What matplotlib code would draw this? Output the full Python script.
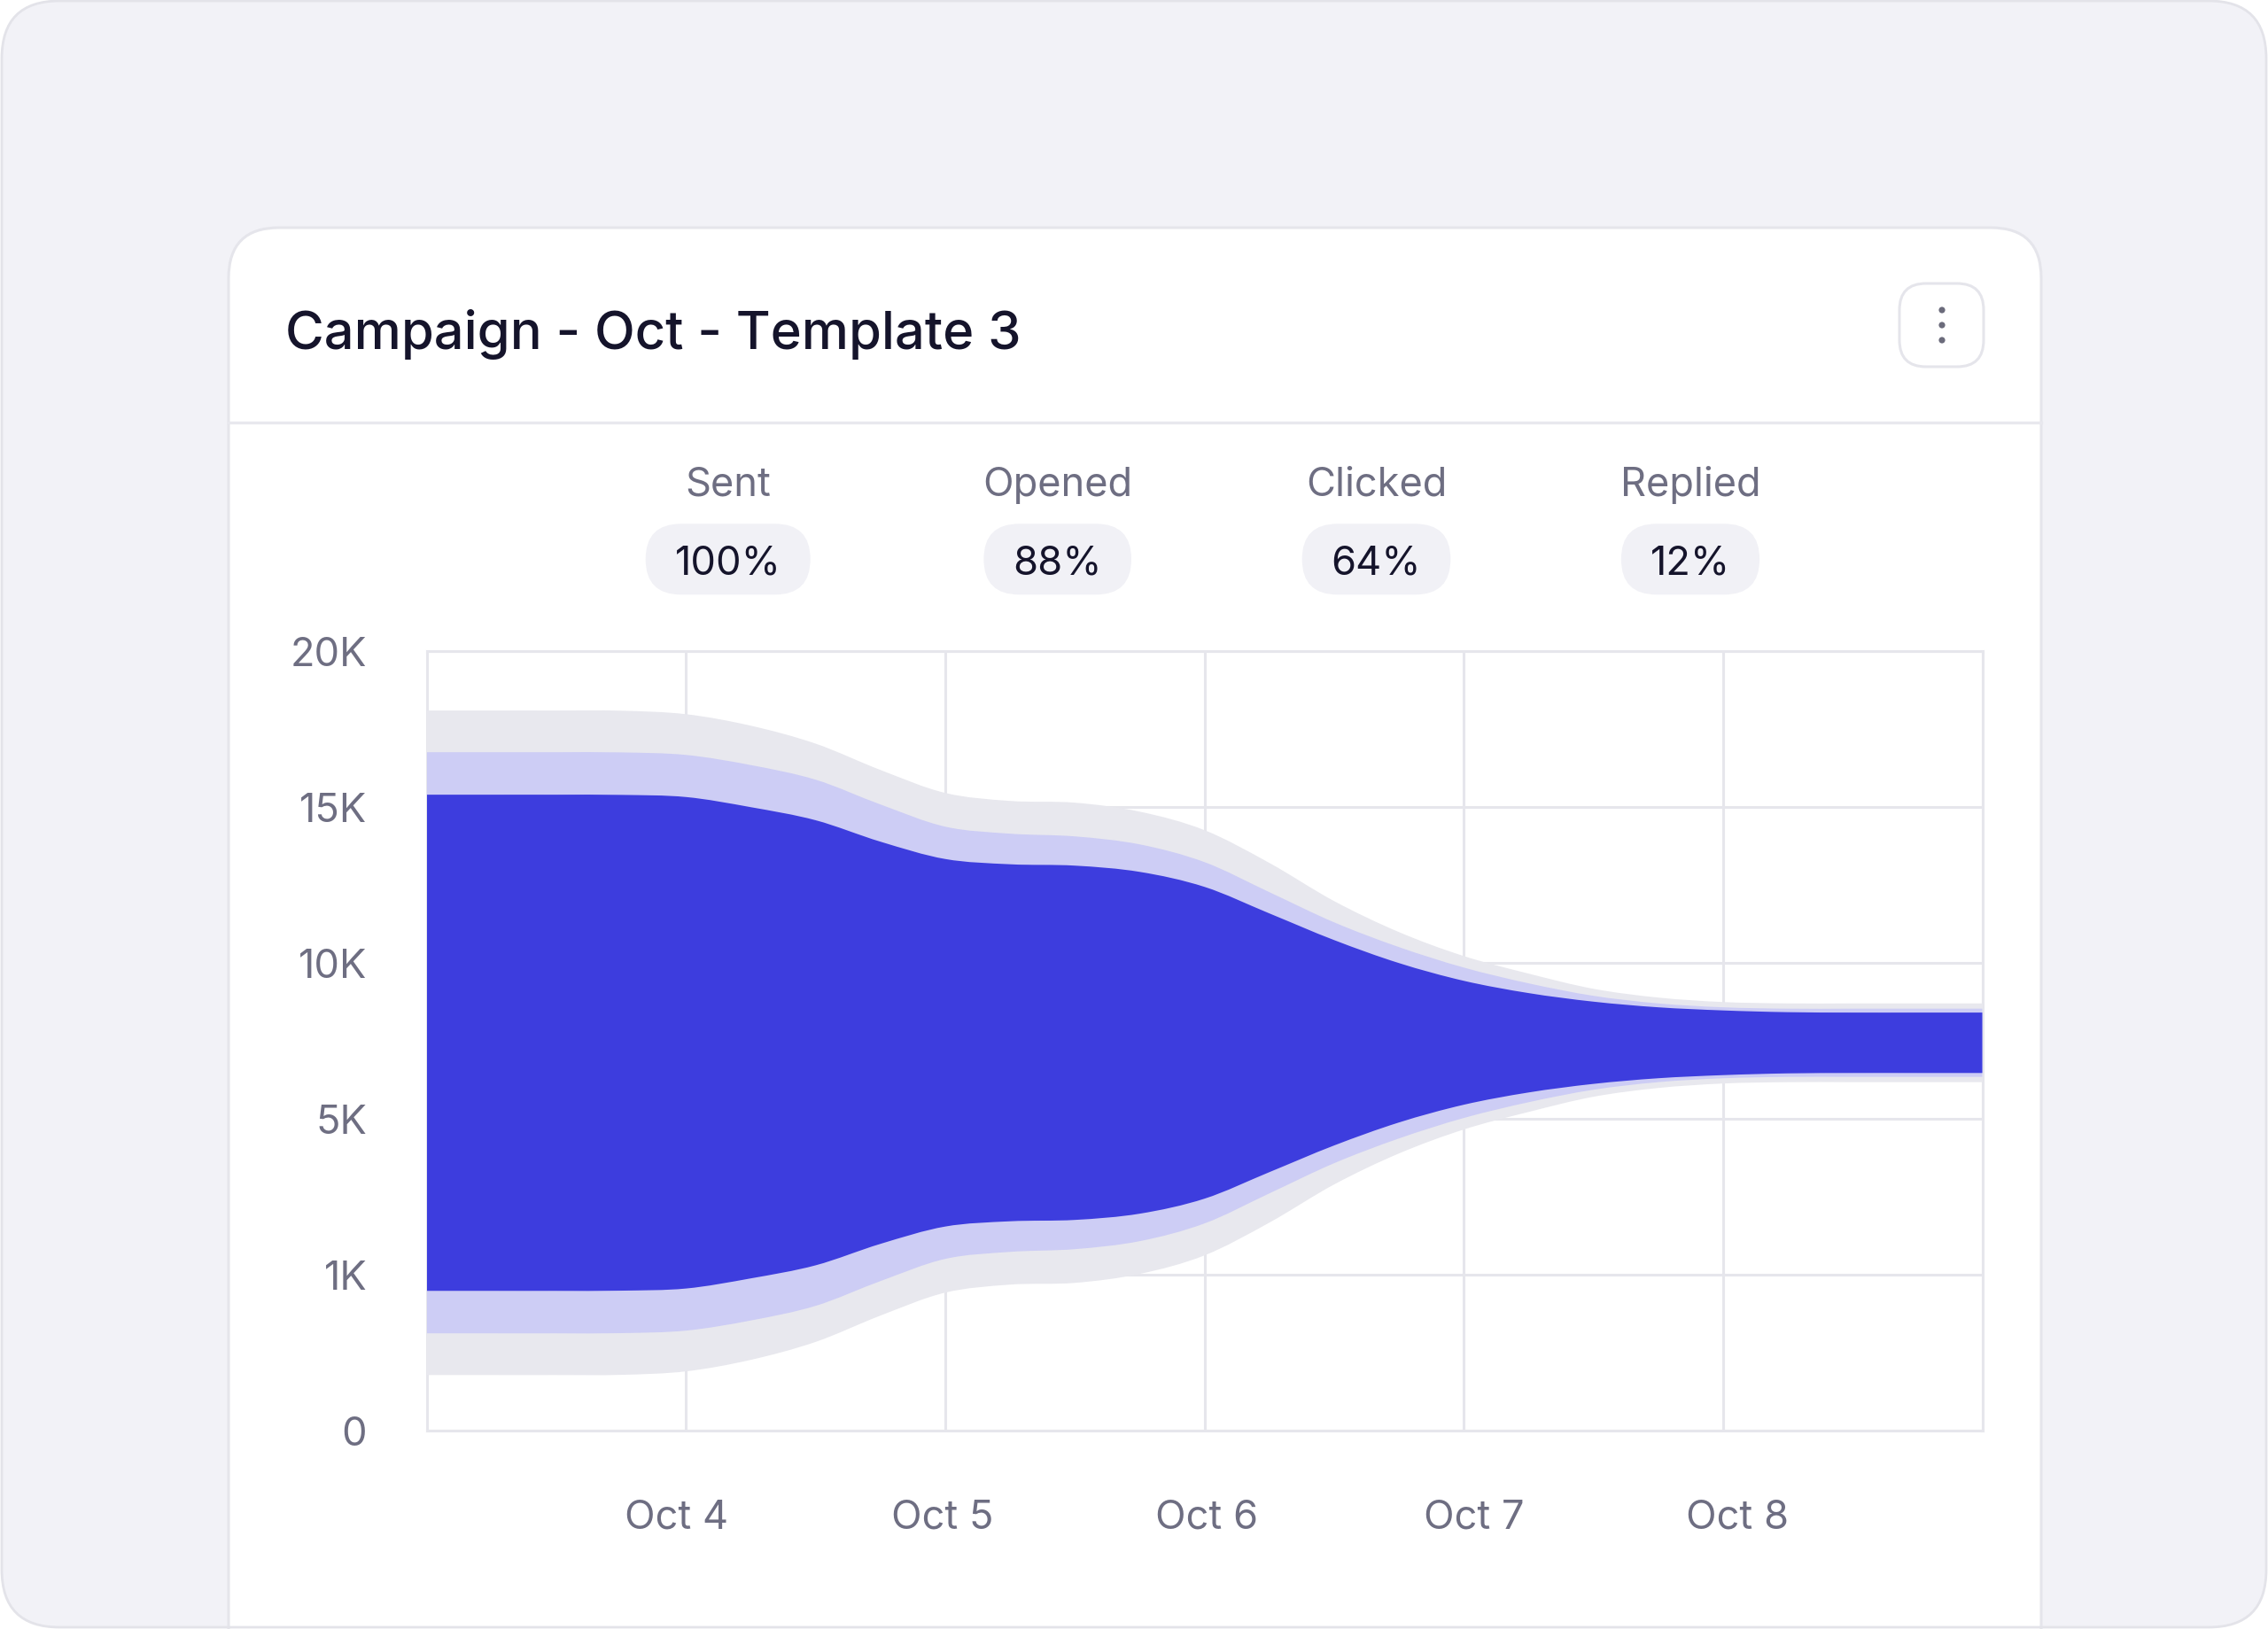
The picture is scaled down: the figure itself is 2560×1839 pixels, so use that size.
import numpy as np
import matplotlib
matplotlib.use('Agg')
import matplotlib.pyplot as plt
import matplotlib.transforms as mtransforms
from matplotlib.path import Path
from matplotlib.patches import PathPatch, FancyBboxPatch, Circle
from matplotlib.lines import Line2D

plt.rcParams['font.family'] = ['Inter', 'DejaVu Sans']

# ---------- data ---------- #

title = 'Campaign - Oct - Template 3'
stages = ['Sent', 'Opened', 'Clicked', 'Replied']
stage_pct = ['100%', '88%', '64%', '12%']

# y axis: evenly spaced ticks with uneven labels
ytick_vals = [0, 4000, 8000, 12000, 16000, 20000]
ytick_labels = ['0', '1K', '5K', '10K', '15K', '20K']
xtick_labels = ['Oct 4', 'Oct 5', 'Oct 6', 'Oct 7', 'Oct 8']

# funnel: band thickness at quarter-day steps
x_pts = [0, 0.25, 0.5, 0.75, 1, 1.25, 1.5, 1.75, 2, 2.25, 2.5, 2.75, 3,
         3.25, 3.5, 3.75, 4, 4.25, 4.5, 4.75, 5, 5.25, 5.5, 5.75, 6]
sent_w = [17050, 17050, 17050, 17040, 16860, 16270, 15350, 14000, 12820, 12410,
          12320, 11860, 10910, 9230, 7270, 5680, 4450, 3550, 2770, 2320,
          2090, 2020, 2020, 2020, 2020]
opened_w = [14910, 14910, 14910, 14900, 14770, 14250, 13500, 12230, 11090, 10730,
            10590, 10180, 9270, 7730, 6180, 4910, 3860, 3050, 2410, 2020,
            1820, 1750, 1750, 1750, 1750]
clicked_w = [12730, 12730, 12730, 12720, 12610, 12090, 11420, 10320, 9430, 9160,
             9090, 8770, 8000, 6640, 5270, 4090, 3180, 2550, 2110, 1820,
             1660, 1570, 1550, 1550, 1550]
center = 9950

# ---------- layout (pixels, y from top) ---------- #

W, H = 2560, 1840
DPI = 100
bg = '#F2F2F7'
line_col = '#E6E6EC'
txt_dark = '#15142B'
txt_grey = '#6E6E82'
band_cols = ['#E8E8EE', '#CDCDF5', '#3D3DDE']

ax_l, ax_r, ax_t, ax_b = 481.6, 2237.5, 736, 1616
stage_x = [821.7, 1193.7, 1553.5, 1908]
xtick_pos = [0.965, 1.99, 3.01, 4.04, 5.055]

fig = plt.figure(figsize=(W / DPI, H / DPI), dpi=DPI, facecolor='white')
ident = mtransforms.IdentityTransform()


def box(x0, y0, x1, y1, r, **kw):
    # rounded box in pixel coords, y measured from the top
    p = FancyBboxPatch((x0, H - y1), x1 - x0, y1 - y0,
                       boxstyle='round,pad=0,rounding_size={}'.format(r),
                       transform=ident, **kw)
    fig.add_artist(p)
    return p


# page background + card
box(2, 2, W - 2, H - 2, 65, facecolor=bg, edgecolor='none', zorder=-5)
box(258, 258, 2304, H + 200, 57, facecolor='white', edgecolor='#E5E5EB',
    linewidth=2.2, zorder=-4)
fig.add_artist(Line2D([258, 2304], [H - 478, H - 478], transform=ident,
                      color='#E8E8EE', linewidth=2.4, zorder=-3))
box(2, 2, W - 2, H - 2, 65, facecolor='none', edgecolor='#E3E3E9',
    linewidth=2, zorder=20)

# title and menu button
fig.text(322 / W, 1 - 394 / H, title, fontsize=43, fontweight='medium',
         color=txt_dark, ha='left', va='baseline')
box(2144, 321, 2239, 415, 30, facecolor='white', edgecolor='#E5E5EB',
    linewidth=2.2, zorder=-2)
for dy in [351, 368, 385]:
    fig.add_artist(Circle((2192, H - dy), 3.6, transform=ident,
                          facecolor='#6B6B7B', edgecolor='none'))

# stage labels with pills
renderer = fig.canvas.get_renderer()
for sx, name, pct in zip(stage_x, stages, stage_pct):
    fig.text(sx / W, 1 - 560 / H, name, fontsize=32.5, color=txt_grey,
             ha='center', va='baseline')
    t = fig.text(sx / W, 1 - 648.3 / H, pct, fontsize=32.5, color=txt_dark,
                 ha='center', va='baseline', zorder=2)
    tw = t.get_window_extent(renderer=renderer).width
    pw = tw + 66
    box(sx - pw / 2, 592.3, sx + pw / 2, 672.3, 40, facecolor='#F1F1F6',
        edgecolor='none', zorder=1)

# ---------- chart ---------- #

ax = fig.add_axes([ax_l / W, 1 - ax_b / H, (ax_r - ax_l) / W, (ax_b - ax_t) / H])
ax.set_facecolor('white')
ax.set_xlim(0, 6)
ax.set_ylim(0, 20000)


def smooth(x, y):
    # catmull-rom through the points, as bezier vertices
    x = np.asarray(x, float)
    y = np.asarray(y, float)
    h = np.diff(x)
    m = np.zeros_like(y)
    m[1:-1] = (y[2:] - y[:-2]) / (x[2:] - x[:-2])
    verts = [(x[0], y[0])]
    for i in range(len(x) - 1):
        verts += [(x[i] + h[i] / 3, y[i] + m[i] * h[i] / 3),
                  (x[i + 1] - h[i] / 3, y[i + 1] - m[i + 1] * h[i] / 3),
                  (x[i + 1], y[i + 1])]
    return verts


for widths, col in zip([sent_w, opened_w, clicked_w], band_cols):
    w = np.asarray(widths, float)
    top = smooth(x_pts, center + w / 2)
    bot = smooth(x_pts, center - w / 2)[::-1]
    n = len(top)
    verts = top + bot + [top[0]]
    codes = ([Path.MOVETO] + [Path.CURVE4] * (n - 1) + [Path.LINETO]
             + [Path.CURVE4] * (n - 1) + [Path.CLOSEPOLY])
    ax.add_patch(PathPatch(Path(verts, codes), facecolor=col,
                           edgecolor='none', zorder=3))

ax.set_yticks(ytick_vals)
ax.set_yticklabels(ytick_labels)
ax.set_xticks(xtick_pos)
ax.set_xticklabels(xtick_labels)
ax.set_xticks(range(7), minor=True)
ax.tick_params(axis='both', which='both', length=0, labelsize=32.5,
               labelcolor=txt_grey)
ax.tick_params(axis='y', pad=48.5)
ax.tick_params(axis='x', pad=55)
ax.grid(which='major', axis='y', color=line_col, linewidth=2.2)
ax.grid(which='minor', axis='x', color=line_col, linewidth=2.2)
ax.set_axisbelow(True)
for sp in ax.spines.values():
    sp.set_color(line_col)
    sp.set_linewidth(2.2)

fig.savefig('out.png', dpi=DPI, facecolor='white')
